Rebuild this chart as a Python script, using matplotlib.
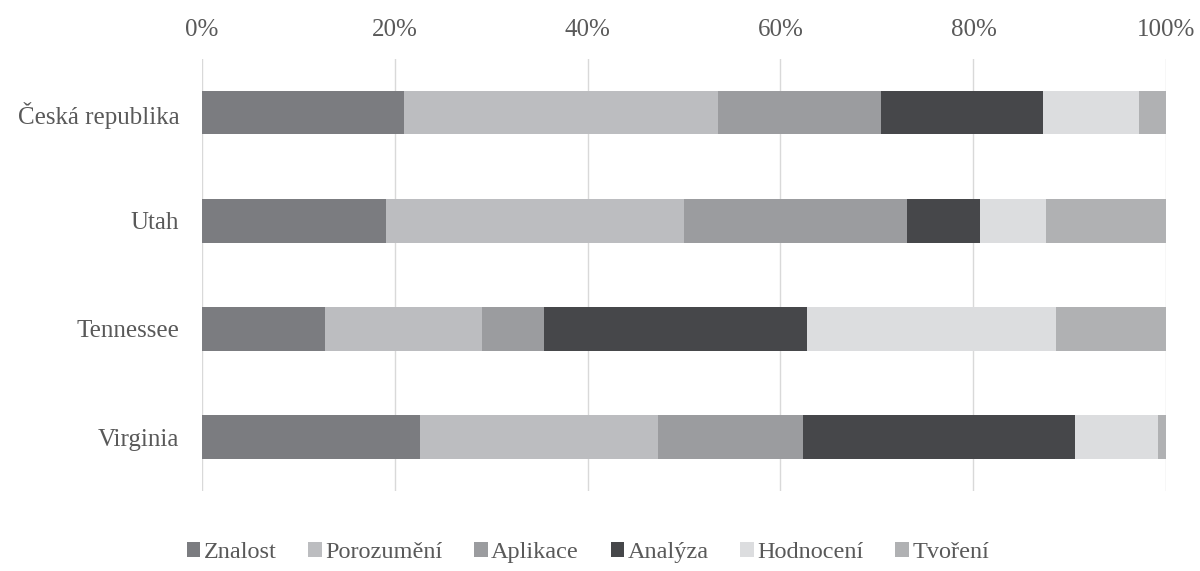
import matplotlib.pyplot as plt
import numpy as np

# kategorie (shora dolů) a podíly jednotlivých úrovní v %
regions = ["Česká republika", "Utah", "Tennessee", "Virginia"]
levels = ["Znalost", "Porozumění", "Aplikace", "Analýza", "Hodnocení", "Tvoření"]
znalost = [21.0, 19.1, 12.8, 22.6]
porozumeni = [32.5, 30.9, 16.3, 24.7]
aplikace = [16.9, 23.1, 6.4, 15.0]
analyza = [16.8, 7.6, 27.3, 28.2]
hodnoceni = [10.0, 6.8, 25.8, 8.6]
tvoreni = [2.8, 12.5, 11.4, 0.9]
xticks = [0, 20, 40, 60, 80, 100]
xtick_labels = ["0%", "20%", "40%", "60%", "80%", "100%"]

colors = ["#7b7c80", "#bcbdc0", "#9b9c9f", "#46474a", "#dcdddf", "#b0b1b3"]
series = [znalost, porozumeni, aplikace, analyza, hodnoceni, tvoreni]

plt.rcParams['font.family'] = ['Liberation Serif', 'DejaVu Serif']
text_color = "#595959"

fig = plt.figure(figsize=(12, 5.71), dpi=100)
ax = fig.add_axes([0.168, 0.14, 0.804, 0.757])

y = np.arange(len(regions))
left = np.zeros(len(regions))
for name, vals, col in zip(levels, series, colors):
    ax.barh(y, vals, left=left, height=0.4, color=col, label=name, zorder=3)
    left += np.array(vals)

ax.set_xlim(0, 100)
ax.set_ylim(3.5, -0.5)
ax.set_xticks(xticks)
ax.set_xticklabels(xtick_labels)
ax.set_yticks(y)
ax.set_yticklabels(regions)
ax.xaxis.tick_top()
ax.tick_params(axis='x', length=0, pad=13, labelsize=18, labelcolor=text_color)
ax.tick_params(axis='y', length=0, pad=16, labelsize=18, labelcolor=text_color)
ax.grid(axis='x', color="#d9d9d9", linewidth=1, zorder=0)
for s in ax.spines.values():
    s.set_visible(False)

fig.legend(loc='center', bbox_to_anchor=(0.49, 0.032), ncol=6, frameon=False,
           fontsize=17.5, labelcolor=text_color, handlelength=0.55, handleheight=0.55,
           handletextpad=0.15, columnspacing=1.3)

plt.savefig('out.png', dpi=100)
